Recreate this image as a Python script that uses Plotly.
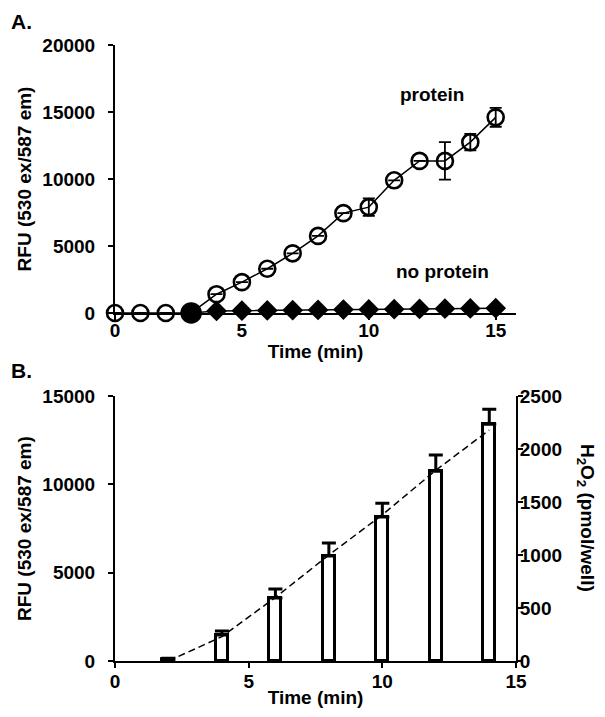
import plotly.graph_objects as go

# Panel A: time course (min) vs RFU
time_a = [0, 1, 2, 3, 4, 5, 6, 7, 8, 9, 10, 11, 12, 13, 14, 15]
protein = [0, 0, 0, 0, 1400, 2300, 3300, 4450, 5750, 7450, 7900, 9900, 11350, 11350, 12750, 14600]
protein_err = [0, 0, 0, 0, 0, 0, 0, 0, 0, 0, 650, 0, 0, 1400, 620, 700]

time_np = [3, 4, 5, 6, 7, 8, 9, 10, 11, 12, 13, 14, 15]
no_protein = [0, 150, 170, 190, 210, 230, 250, 260, 280, 300, 320, 340, 360]

# Panel B: bars (RFU, left axis) and H2O2 curve (pmol/well, right axis)
time_b = [2, 4, 6, 8, 10, 12, 14]
rfu_b = [100, 1470, 3570, 5940, 8150, 10750, 13400]
rfu_b_err = [60, 230, 510, 740, 790, 910, 860]
h2o2 = [0, 230, 600, 1000, 1380, 1800, 2180]

FONT = "Arial, Liberation Sans, sans-serif"
BLACK = "#000000"

marker_syms = ["circle-open"] * len(time_a)
marker_syms[3] = "circle"
marker_sizes = [16] * len(time_a)
marker_sizes[3] = 19

fig = go.Figure()

fig.add_trace(go.Scatter(
    x=time_np, y=no_protein, mode="lines+markers",
    line=dict(color=BLACK, width=1.5),
    marker=dict(symbol="diamond", size=16, color=BLACK, opacity=1),
    cliponaxis=False, xaxis="x", yaxis="y", showlegend=False,
))
fig.add_trace(go.Scatter(
    x=time_a, y=protein, mode="lines+markers",
    line=dict(color=BLACK, width=1.5),
    marker=dict(symbol=marker_syms, size=marker_sizes, color=BLACK, opacity=1,
                line=dict(color=BLACK, width=2.6)),
    error_y=dict(type="data", array=protein_err, color=BLACK, thickness=1.8, width=6),
    cliponaxis=False, xaxis="x", yaxis="y", showlegend=False,
))

fig.add_trace(go.Bar(
    x=time_b, y=rfu_b, width=0.45,
    marker=dict(color="white", line=dict(color=BLACK, width=3)),
    error_y=dict(type="data", array=rfu_b_err, arrayminus=[0] * len(time_b),
                 color=BLACK, thickness=3, width=7),
    xaxis="x2", yaxis="y2", showlegend=False,
))
fig.add_trace(go.Scatter(
    x=time_b, y=h2o2, mode="lines",
    line=dict(color=BLACK, width=1.5, dash="7px,4px"),
    xaxis="x2", yaxis="y3", showlegend=False,
))

axis_common = dict(
    showline=True, linecolor=BLACK, linewidth=2, showgrid=False, zeroline=False,
    ticks="outside", tickcolor=BLACK, tickwidth=2, ticklen=5, tickformat="d",
    tickfont=dict(family=FONT, size=19, color=BLACK, weight="bold"),
)
title_font = dict(family=FONT, size=19, color=BLACK, weight="bold")

fig.update_layout(
    width=605, height=717,
    margin=dict(l=107, r=97, t=37, b=64),
    paper_bgcolor="white", plot_bgcolor="white",
    font=dict(family=FONT, color=BLACK),
    bargap=0,
    xaxis=dict(axis_common, domain=[0, 1], range=[0, 15.8], tickvals=[0, 5, 10, 15],
               ticklabelstandoff=-6, anchor="y",
               title=dict(text="Time (min)", font=title_font, standoff=2)),
    yaxis=dict(axis_common, domain=[0.565, 1], range=[0, 20000], dtick=5000,
               ticklabelstandoff=9, anchor="x",
               title=dict(text="RFU (530 ex/587 em)", font=title_font, standoff=6)),
    xaxis2=dict(axis_common, domain=[0, 1], range=[0, 15], tickvals=[0, 5, 10, 15],
                ticklabelstandoff=-3, anchor="y2",
                title=dict(text="Time (min)", font=title_font, standoff=0)),
    yaxis2=dict(axis_common, domain=[0, 0.43], range=[0, 15000], dtick=5000,
                ticklabelstandoff=9, anchor="x2",
                title=dict(text="RFU (530 ex/587 em)", font=title_font, standoff=6)),
    yaxis3=dict(axis_common, range=[0, 2500], dtick=500, overlaying="y2",
                ticklabelstandoff=-7, side="right", anchor="x2"),
    annotations=[
        dict(text="A.", x=-0.265, y=1.06, xref="paper", yref="paper", xanchor="left",
             yanchor="top", showarrow=False, font=dict(family=FONT, size=21, weight="bold")),
        dict(text="B.", x=-0.265, y=0.472, xref="paper", yref="paper", xanchor="left",
             yanchor="middle", showarrow=False, font=dict(family=FONT, size=21, weight="bold")),
        dict(text="protein", x=12.5, y=16300, xref="x", yref="y", showarrow=False,
             font=dict(family=FONT, size=19, weight="bold")),
        dict(text="no protein", x=12.9, y=3100, xref="x", yref="y", showarrow=False,
             font=dict(family=FONT, size=19, weight="bold")),
        dict(text="", x=3, y=-1450, xref="x", yref="y", showarrow=True,
             arrowhead=2, arrowsize=1, arrowwidth=2, arrowcolor=BLACK, ax=0, ay=24),
        dict(text="H<sub>2</sub>O<sub>2</sub> (pmol/well)", x=1.175, y=0.232,
             xref="paper", yref="paper", xanchor="center", yanchor="middle",
             textangle=90, showarrow=False,
             font=dict(family=FONT, size=19, weight="bold")),
    ],
)

fig.write_html("out.html")
